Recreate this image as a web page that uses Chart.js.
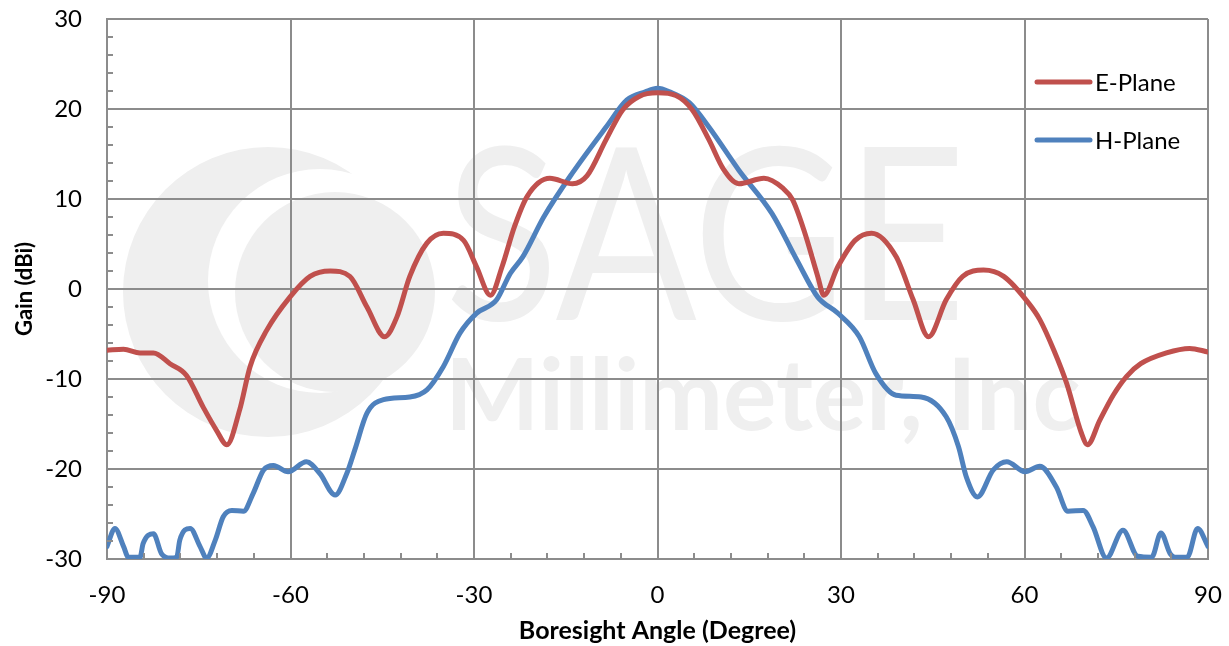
<!DOCTYPE html>
<html>
<head>
<meta charset="utf-8">
<script src="https://cdn.jsdelivr.net/npm/chart.js@4.4.1/dist/chart.umd.min.js"></script>
<style>
  html, body { margin: 0; padding: 0; background: #fff; }
  #wrap { width: 1229px; height: 646px; position: relative; }
</style>
</head>
<body>
<div id="wrap"><canvas id="myChart"></canvas></div>
<script>
// E-Plane readings (angle in degree, gain in dBi)
const eAngles = [-90, -87.3, -84.6, -82.4, -79.7, -77, -74.3, -72.1, -70.4, -68.3, -66.6, -63.9, -60.1, -56.8, -53.5, -50.3, -47.5, -44.6, -42.6, -40.5, -37.7, -35, -31.7, -29.6, -27.3, -25.4, -23.4, -21.3, -17.6, -13.9, -11.5, -8.4, -5.7, -3, 0, 3, 5.7, 8.4, 10.8, 13.3, 17.4, 20.5, 22.1, 24.1, 26.2, 27.2, 29.5, 32.3, 35, 39, 41.8, 44.3, 47.2, 49.9, 53.3, 56.6, 60.7, 62.5, 64.8, 66.9, 69.3, 70.3, 72.3, 74.5, 76.7, 79, 83.2, 87, 90];
const eGain = [-6.8, -6.7, -7.1, -7.1, -8.3, -9.6, -13.1, -15.7, -17.3, -13.4, -8.6, -4.6, -0.9, 1.4, 2.0, 1.4, -2.0, -5.3, -3.1, 1.4, 5.1, 6.2, 5.4, 2.5, -0.7, 2.5, 6.9, 10.3, 12.3, 11.7, 12.6, 16.6, 19.9, 21.4, 21.8, 21.5, 19.9, 16.6, 13.3, 11.7, 12.3, 11.2, 9.9, 6.2, 1.4, -0.7, 2.5, 5.4, 6.2, 3.6, -1.2, -5.3, -1.2, 1.4, 2.1, 1.4, -1.6, -3.4, -6.8, -10.5, -16, -17.3, -14.6, -11.8, -9.7, -8.3, -7.1, -6.6, -7.0];

// H-Plane readings
const hAngles = [-90, -88.7, -87.3, -86.5, -84.6, -84.1, -82.4, -81.1, -79.7, -78.6, -78.1, -76.4, -74.8, -73.7, -72.3, -71, -69.6, -67.7, -66.1, -64.4, -62.8, -60.4, -57.4, -55.2, -52.7, -50.8, -49.5, -47.5, -44.8, -40.5, -37.7, -35, -32.3, -29.6, -26.3, -24.1, -22, -18.6, -13.9, -8.4, -5, -2, 0, 2, 5.2, 8.4, 13.3, 18.7, 22.8, 26.2, 29.5, 33, 35.7, 39, 43.1, 47.2, 49.2, 50.5, 52.3, 54.9, 57.1, 60.1, 62.5, 65.2, 67.1, 69.6, 71.2, 73.4, 76.1, 78.5, 80.8, 82.3, 83.8, 84.6, 86.6, 88.3, 90];
const hGain = [-28.6, -26.6, -28.6, -29.8, -29.8, -28.3, -27.2, -29.4, -29.9, -29.8, -27.9, -26.6, -28.6, -29.9, -27.9, -25.3, -24.6, -24.7, -22.7, -20.1, -19.6, -20.3, -19.2, -20.5, -22.9, -20.5, -17.9, -13.8, -12.3, -12.0, -11.2, -8.6, -4.9, -2.7, -1.2, 1.7, 3.6, 8.0, 12.9, 18.0, 21.0, 21.9, 22.3, 21.9, 20.7, 18.0, 13.2, 8.4, 3.2, -0.9, -2.7, -5.3, -9.4, -11.8, -12.0, -14.2, -17.5, -20.9, -23.1, -20.1, -19.2, -20.3, -19.7, -22.0, -24.7, -24.6, -26.4, -29.9, -26.8, -29.7, -29.8, -27.1, -29.4, -29.8, -29.8, -26.6, -28.6];

const seriesNames = ["E-Plane", "H-Plane"];
const seriesColors = ["#C0504D", "#4F81BD"];
const xTicks = [-90, -60, -30, 0, 30, 60, 90];
const yTicks = [-30, -20, -10, 0, 10, 20, 30];

const gridColor = "#8c8c8c";
const font = "Lato, 'Open Sans', sans-serif";

function pts(xs, ys) {
  return xs.map((x, i) => ({ x: x, y: ys[i] }));
}

// faint company watermark behind the plot
const watermark = {
  id: "watermark",
  beforeDraw(chart) {
    const ctx = chart.ctx;
    const a = chart.chartArea;
    ctx.save();
    ctx.fillStyle = "#efefef";
    ctx.beginPath();
    ctx.arc(a.left + 161, a.top + 273, 145, 0, Math.PI * 2);
    ctx.fill();
    ctx.fillStyle = "#ffffff";
    ctx.beginPath();
    ctx.arc(a.left + 213, a.top + 262, 112, 0, Math.PI * 2);
    ctx.fill();
    ctx.fillStyle = "#efefef";
    ctx.beginPath();
    ctx.arc(a.left + 228, a.top + 273, 100, 0, Math.PI * 2);
    ctx.fill();
    ctx.save();
    ctx.translate(a.left + 338, a.top + 301);
    ctx.scale(0.87, 1);
    ctx.font = "240px " + font;
    ctx.textBaseline = "alphabetic";
    ctx.fillText("SAGE", 0, 0);
    ctx.restore();
    ctx.font = "bold 100px " + font;
    ctx.fillText("Millimeter, Inc", a.left + 338, a.top + 411);
    ctx.restore();
  }
};

// minor tick marks inside the plot, and the legend in the top right
const extras = {
  id: "extras",
  afterDatasetsDraw(chart) {
    const ctx = chart.ctx;
    const a = chart.chartArea;
    const xs = chart.scales.x, ys = chart.scales.y;
    ctx.save();
    ctx.strokeStyle = gridColor;
    ctx.lineWidth = 2;
    ctx.beginPath();
    for (let v = -30; v <= 30; v += 2) {
      if (v % 10 === 0) continue;
      const py = Math.round(ys.getPixelForValue(v));
      ctx.moveTo(a.left, py);
      ctx.lineTo(a.left + 6, py);
    }
    for (let v = -90; v <= 90; v += 6) {
      if (v % 30 === 0) continue;
      const px = Math.round(xs.getPixelForValue(v));
      ctx.moveTo(px, a.bottom);
      ctx.lineTo(px, a.bottom - 6);
    }
    ctx.stroke();
    ctx.restore();
  },
  afterDraw(chart) {
    const ctx = chart.ctx;
    const a = chart.chartArea;
    ctx.save();
    ctx.font = "24px " + font;
    ctx.textBaseline = "middle";
    ctx.lineCap = "round";
    seriesNames.forEach((name, i) => {
      const y = a.top + 63 + i * 58;
      ctx.strokeStyle = seriesColors[i];
      ctx.lineWidth = 5;
      ctx.beginPath();
      ctx.moveTo(a.right - 171, y);
      ctx.lineTo(a.right - 118, y);
      ctx.stroke();
      ctx.fillStyle = "#000";
      ctx.fillText(name, a.right - 113, y + 1);
    });
    ctx.restore();
  }
};

const data = {
  datasets: [
    {
      label: seriesNames[0],
      data: pts(eAngles, eGain),
      borderColor: seriesColors[0],
      backgroundColor: seriesColors[0],
    },
    {
      label: seriesNames[1],
      data: pts(hAngles, hGain),
      borderColor: seriesColors[1],
      backgroundColor: seriesColors[1],
    },
  ],
};

const config = {
  type: "line",
  data: data,
  options: {
    responsive: true,
    maintainAspectRatio: false,
    animation: false,
    layout: { padding: { left: 0, right: 21, top: 19, bottom: 0 } },
    elements: {
      line: { borderWidth: 5, cubicInterpolationMode: "monotone", borderCapStyle: "round", borderJoinStyle: "round" },
      point: { radius: 0, hoverRadius: 0 },
    },
    plugins: { legend: { display: false }, tooltip: { enabled: false } },
    scales: {
      x: {
        type: "linear",
        min: -90,
        max: 90,
        afterBuildTicks: (s) => { s.ticks = xTicks.map((v) => ({ value: v })); },
        afterFit: (s) => { s.height = 87; s.paddingLeft = 0; s.paddingRight = 0; },
        grid: { color: gridColor, lineWidth: 2, drawTicks: false },
        border: { color: gridColor, width: 2 },
        ticks: { color: "#000", padding: 22, maxRotation: 0, font: { family: font, size: 24 } },
        title: {
          display: true,
          text: "Boresight Angle (Degree)",
          color: "#000",
          font: { family: font, size: 25, weight: "bold" },
          padding: { top: 0, bottom: 0 },
        },
      },
      y: {
        min: -30,
        max: 30,
        afterBuildTicks: (s) => { s.ticks = yTicks.map((v) => ({ value: v })); },
        afterFit: (s) => { s.width = 107; s.paddingTop = 0; s.paddingBottom = 0; },
        grid: { color: gridColor, lineWidth: 2, drawTicks: false },
        border: { color: gridColor, width: 2 },
        ticks: { color: "#000", padding: 25, font: { family: font, size: 24 } },
        title: {
          display: true,
          text: "Gain (dBi)",
          color: "#000",
          font: { family: font, size: 22, weight: "bold" },
          padding: { top: 12, bottom: 0 },
        },
      },
    },
  },
  plugins: [watermark, extras],
};

const myChart = new Chart(document.getElementById("myChart"), config);
</script>
</body>
</html>
